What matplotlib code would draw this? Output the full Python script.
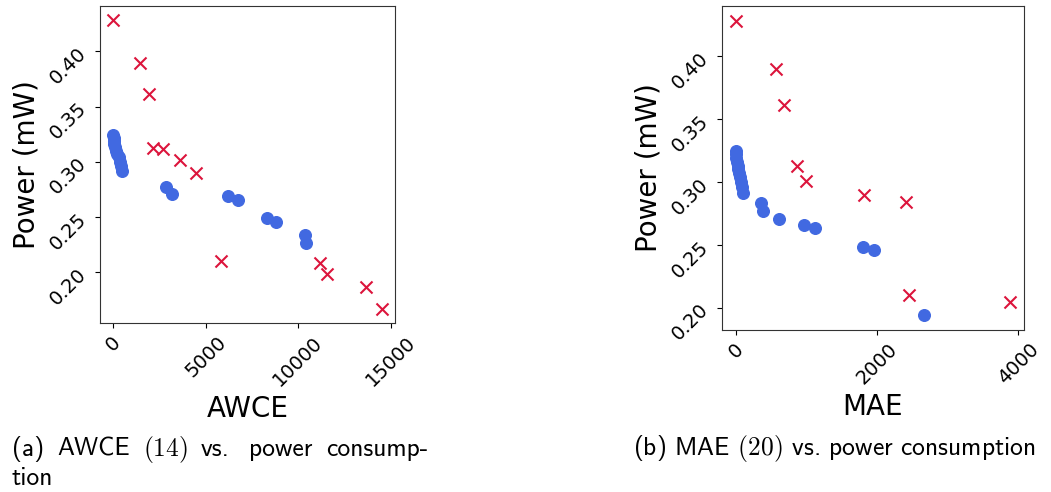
import numpy as np
import matplotlib.pyplot as plt

plt.rcParams['mathtext.fontset'] = 'cm'

# AWCE vs power
awce_blue = [0, 10, 30, 60, 100, 150, 220, 300, 360, 420, 450,
             2855, 3181, 6217, 6759, 8313, 8783, 10374, 10446]
pow_awce_blue = [0.3246, 0.322, 0.319, 0.316, 0.313, 0.310, 0.307, 0.304, 0.300, 0.296, 0.2913,
                 0.277, 0.2713, 0.2692, 0.2659, 0.2487, 0.2459, 0.2338, 0.2269]
awce_red = [0, 1446, 1916, 2169, 2711, 3614, 4482, 5819, 11168, 11566, 13662, 14512]
pow_awce_red = [0.4281, 0.3894, 0.361, 0.3127, 0.3118, 0.3015, 0.2897, 0.210,
                0.2088, 0.198, 0.1864, 0.1671]

# MAE vs power
mae_blue = [0, 5, 10, 18, 25, 35, 45, 55, 70, 85, 100,
            354, 392, 618, 962, 1127, 1807, 1953, 2665]
pow_mae_blue = [0.3245, 0.322, 0.319, 0.316, 0.313, 0.310, 0.307, 0.304, 0.300, 0.296, 0.291,
                0.283, 0.2772, 0.2708, 0.2655, 0.2637, 0.2485, 0.2459, 0.1939]
mae_red = [9, 571, 689, 863, 991, 1821, 2410, 2453, 3887]
pow_mae_red = [0.4284, 0.3897, 0.3613, 0.313, 0.301, 0.2896, 0.2843, 0.2098, 0.2045]

fig = plt.figure(figsize=(10.51, 4.92), dpi=100)
ax1 = fig.add_axes([0.0951, 0.3435, 0.2807, 0.6443])
ax2 = fig.add_axes([0.687, 0.3293, 0.2873, 0.6585])

panels = [
    (ax1, awce_blue, pow_awce_blue, awce_red, pow_awce_red, 'AWCE', [0, 5000, 10000, 15000]),
    (ax2, mae_blue, pow_mae_blue, mae_red, pow_mae_red, 'MAE', [0, 2000, 4000]),
]
for ax, xb, yb, xr, yr, name, xt in panels:
    ax.scatter(xb, yb, s=70, color='royalblue', zorder=2)
    ax.scatter(xr, yr, s=75, marker='x', color='crimson', linewidths=1.5, zorder=3)
    ax.set_xticks(xt)
    ax.set_yticks([0.20, 0.25, 0.30, 0.35, 0.40])
    ax.tick_params(axis='both', labelsize=14, rotation=45)
    ax.set_xlabel(name, fontsize=20)
    ax.set_ylabel('Power (mW)', fontsize=20)
    for sp in ax.spines.values():
        sp.set_color('#333333')

# captions; the first line of (a) is justified between x0 and x1 (pixels)
cap = dict(fontsize=18.4, family='cmss10', va='baseline', ha='left')
W = 1051.0
x0, x1 = 11.7, 428.0
words_a = ['(a)', 'AWCE', r'$(14)$', 'vs.', 'power', 'consump-']
gap_weight = [1, 1, 1, 1.5, 1]
texts = [fig.text(0, 0.0732, w, **cap) for w in words_a]
renderer = fig.canvas.get_renderer()
widths = [t.get_window_extent(renderer).width for t in texts]
unit = (x1 - x0 - sum(widths)) / sum(gap_weight)
x = x0
for i, t in enumerate(texts):
    t.set_x(x / W)
    if i < len(gap_weight):
        x += widths[i] + unit * gap_weight[i]
fig.text(x0 / W, 0.0142, 'tion', **cap)
fig.text(633 / W, 0.0752, r'(b) MAE $(20)$ vs. power consumption', **cap)

fig.savefig('out.png', dpi=100)
